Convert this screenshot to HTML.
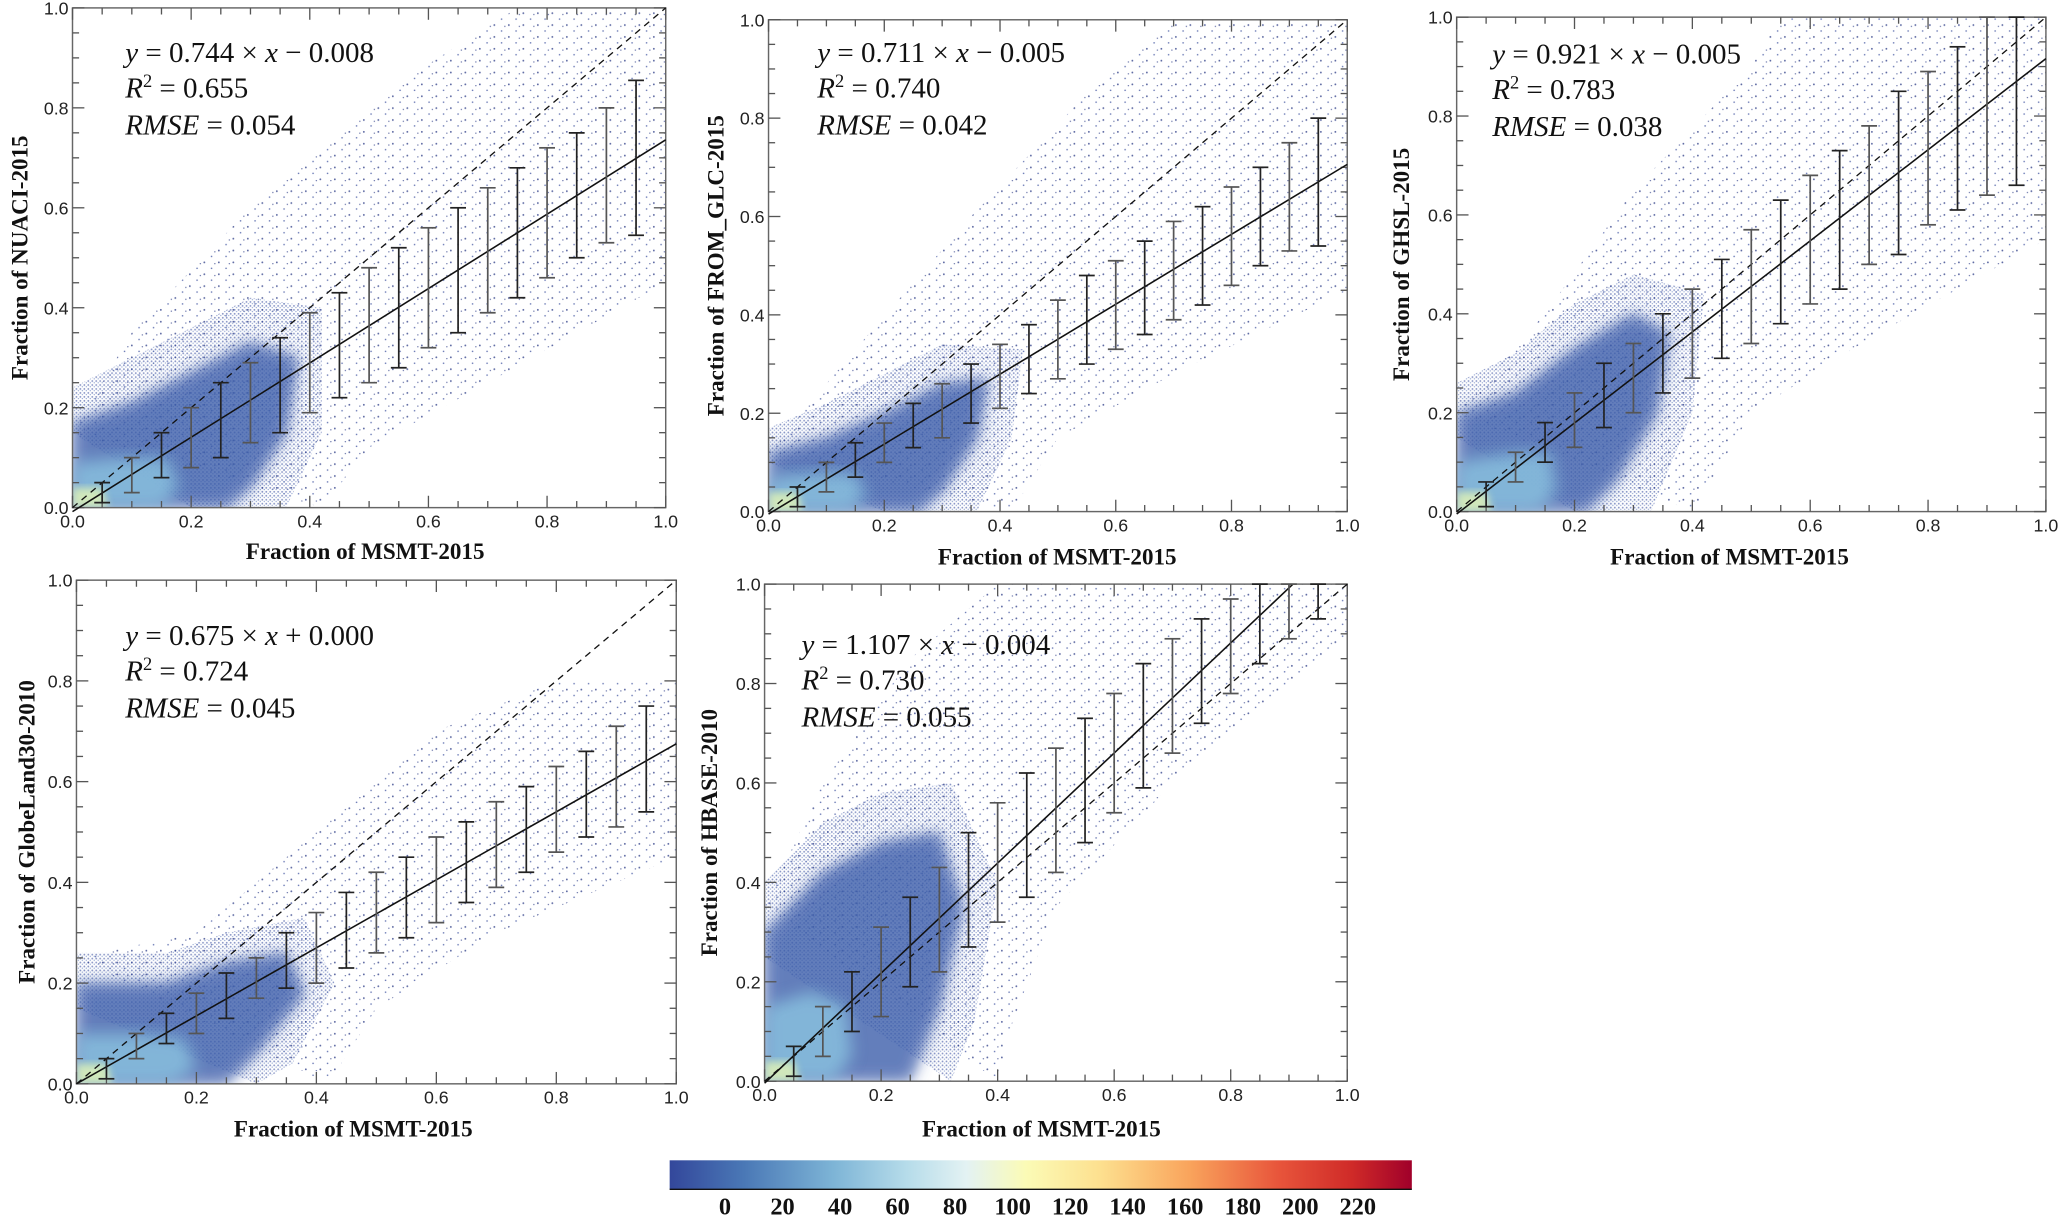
<!DOCTYPE html>
<html><head><meta charset="utf-8">
<style>
html,body{margin:0;padding:0;background:#fff;}
svg{display:block;}
.tick{font-family:"Liberation Sans",sans-serif;font-size:13.5px;fill:#222;}
.atitle{font-family:"Liberation Serif",serif;font-weight:bold;font-size:17.5px;fill:#111;}
.eq{font-family:"Liberation Serif",serif;font-size:22px;fill:#111;}
.cbl{font-family:"Liberation Serif",serif;font-weight:bold;font-size:18.5px;fill:#111;}
</style></head>
<body>
<svg id="fig" width="2067" height="1217" viewBox="0 0 1568 923" preserveAspectRatio="none" xmlns="http://www.w3.org/2000/svg">
<defs>
<filter id="blur6" x="-20%" y="-20%" width="140%" height="140%"><feGaussianBlur stdDeviation="6"/></filter>
<filter id="blur3" x="-20%" y="-20%" width="140%" height="140%"><feGaussianBlur stdDeviation="3"/></filter>
<pattern id="dots" width="11" height="9" patternUnits="userSpaceOnUse"><circle cx="1" cy="1" r="0.7" fill="#2a3a85"/><circle cx="6.5" cy="5.5" r="0.6" fill="#34499a"/><circle cx="9" cy="2" r="0.5" fill="#2a3a85"/></pattern>
<pattern id="dots2" width="3" height="3" patternUnits="userSpaceOnUse"><circle cx="1" cy="1" r="0.7" fill="#2d449a"/><circle cx="2.5" cy="2.3" r="0.5" fill="#4666b0"/></pattern>
<linearGradient id="cbgrad" x1="0" x2="1" y1="0" y2="0">
<stop offset="0" stop-color="#33479b"/><stop offset="0.1" stop-color="#4a78b6"/><stop offset="0.22" stop-color="#7db4d6"/><stop offset="0.32" stop-color="#b6dcea"/><stop offset="0.4" stop-color="#e3f2f3"/><stop offset="0.48" stop-color="#fbfbb6"/><stop offset="0.58" stop-color="#fde08f"/><stop offset="0.7" stop-color="#f9a45c"/><stop offset="0.82" stop-color="#e8553b"/><stop offset="0.92" stop-color="#cf2a28"/><stop offset="1" stop-color="#a0002a"/>
</linearGradient>
</defs>
</svg>
<script>
// ---- data ----
const binCenters = [0.05,0.10,0.15,0.20,0.25,0.30,0.35,0.40,0.45,0.50,0.55,0.60,0.65,0.70,0.75,0.80,0.85,0.90,0.95];
const p1Lo = [0.01,0.03,0.06,0.08,0.10,0.13,0.15,0.19,0.22,0.25,0.28,0.32,0.35,0.39,0.42,0.46,0.50,0.53,0.545];
const p1Hi = [0.05,0.10,0.15,0.20,0.25,0.29,0.34,0.39,0.43,0.48,0.52,0.56,0.60,0.64,0.68,0.72,0.75,0.80,0.855];
const p2Lo = [0.01,0.04,0.07,0.10,0.13,0.15,0.18,0.21,0.24,0.27,0.30,0.33,0.36,0.39,0.42,0.46,0.50,0.53,0.54];
const p2Hi = [0.05,0.10,0.14,0.18,0.22,0.26,0.30,0.34,0.38,0.43,0.48,0.51,0.55,0.59,0.62,0.66,0.70,0.75,0.80];
const p3Lo = [0.01,0.06,0.10,0.13,0.17,0.20,0.24,0.27,0.31,0.34,0.38,0.42,0.45,0.50,0.52,0.58,0.61,0.64,0.66];
const p3Hi = [0.06,0.12,0.18,0.24,0.30,0.34,0.40,0.45,0.51,0.57,0.63,0.68,0.73,0.78,0.85,0.89,0.94,1.00,1.00];
const p4Lo = [0.01,0.05,0.08,0.10,0.13,0.17,0.19,0.20,0.23,0.26,0.29,0.32,0.36,0.39,0.42,0.46,0.49,0.51,0.54];
const p4Hi = [0.05,0.10,0.14,0.18,0.22,0.25,0.30,0.34,0.38,0.42,0.45,0.49,0.52,0.56,0.59,0.63,0.66,0.71,0.75];
const p5Lo = [0.01,0.05,0.10,0.13,0.19,0.22,0.27,0.32,0.37,0.42,0.48,0.54,0.59,0.66,0.72,0.78,0.84,0.89,0.93];
const p5Hi = [0.07,0.15,0.22,0.31,0.37,0.43,0.50,0.56,0.62,0.67,0.73,0.78,0.84,0.89,0.93,0.97,1.00,1.00,1.00];
const slopes = [0.744,0.711,0.921,0.675,1.107];
const intercepts = [-0.008,-0.005,-0.005,0.000,-0.004];
const eqTexts = ["y = 0.744 × x − 0.008","y = 0.711 × x − 0.005","y = 0.921 × x − 0.005","y = 0.675 × x + 0.000","y = 1.107 × x − 0.004"];
const r2Texts = ["0.655","0.740","0.783","0.724","0.730"];
const rmseTexts = ["0.054","0.042","0.038","0.045","0.055"];
const yTitles = ["Fraction of NUACI-2015","Fraction of FROM_GLC-2015","Fraction of GHSL-2015","Fraction of GlobeLand30-2010","Fraction of HBASE-2010"];
const tickLabels = ["0.0","0.2","0.4","0.6","0.8","1.0"];
const cbLabels = ["0","20","40","60","80","100","120","140","160","180","200","220"];

const NS="http://www.w3.org/2000/svg";
const svg=document.getElementById('fig');
function mk(tag,attrs,parent){const e=document.createElementNS(NS,tag);for(const k in attrs)e.setAttribute(k,attrs[k]);(parent||svg).appendChild(e);return e;}

const panels=[
 {x0:55,x1:505,y0:385,y1:6,lo:p1Lo,hi:p1Hi,tx:15,eqx:95,eqy:40,xt:277,xty:418},
 {x0:583,x1:1022,y0:388,y1:15,lo:p2Lo,hi:p2Hi,tx:543,eqx:620,eqy:40,xt:802,xty:422},
 {x0:1105,x1:1552,y0:388,y1:13,lo:p3Lo,hi:p3Hi,tx:1063,eqx:1132,eqy:41,xt:1312,xty:422},
 {x0:58,x1:513,y0:822,y1:440,lo:p4Lo,hi:p4Hi,tx:20,eqx:95,eqy:482,xt:268,xty:856},
 {x0:580,x1:1022,y0:820,y1:443,lo:p5Lo,hi:p5Hi,tx:538,eqx:608,eqy:489,xt:790,xty:856}
];
const denseShapes=[
 [[0,0],[0,0.17],[0.1,0.21],[0.2,0.27],[0.3,0.33],[0.38,0.3],[0.36,0.15],[0.3,0.04],[0.26,0]],
 [[0,0],[0,0.12],[0.1,0.15],[0.2,0.2],[0.3,0.26],[0.38,0.27],[0.36,0.15],[0.3,0.04],[0.26,0]],
 [[0,0],[0,0.2],[0.1,0.24],[0.2,0.33],[0.3,0.4],[0.36,0.36],[0.34,0.2],[0.27,0.06],[0.22,0]],
 [[0,0],[0,0.2],[0.15,0.2],[0.25,0.24],[0.35,0.26],[0.38,0.18],[0.3,0.06],[0.25,0]],
 [[0,0],[0,0.3],[0.1,0.42],[0.2,0.48],[0.3,0.5],[0.34,0.35],[0.3,0.15],[0.25,0]]
];
const haloShapes=[
 [[0,0.15],[0,0.24],[0.1,0.3],[0.2,0.36],[0.3,0.42],[0.42,0.4],[0.42,0.15],[0.36,0.0],[0.2,0]],
 [[0,0.1],[0,0.17],[0.1,0.22],[0.2,0.28],[0.3,0.34],[0.44,0.33],[0.42,0.15],[0.36,0.0],[0.2,0]],
 [[0,0.15],[0,0.26],[0.1,0.32],[0.2,0.42],[0.3,0.48],[0.42,0.44],[0.4,0.2],[0.33,0.0],[0.2,0]],
 [[0,0.15],[0,0.26],[0.15,0.26],[0.25,0.3],[0.38,0.33],[0.43,0.2],[0.36,0.04],[0.3,0]],
 [[0,0.25],[0,0.4],[0.1,0.52],[0.2,0.58],[0.32,0.6],[0.4,0.4],[0.36,0.12],[0.32,0]]
];
const sparseShapes=[
 [[0,0.15],[0.1,0.35],[0.3,0.6],[0.55,0.85],[0.75,1],[1,1],[1,0.45],[0.7,0.25],[0.5,0.12],[0.42,0]],
 [[0,0.12],[0.15,0.33],[0.35,0.6],[0.55,0.85],[0.7,1],[1,1],[1,0.45],[0.7,0.28],[0.5,0.15],[0.42,0]],
 [[0,0.2],[0.15,0.4],[0.3,0.65],[0.5,0.9],[0.55,1],[1,1],[1,0.55],[0.7,0.35],[0.5,0.2],[0.4,0]],
 [[0,0.25],[0.2,0.3],[0.35,0.45],[0.6,0.7],[0.8,0.8],[1,0.8],[1,0.45],[0.7,0.3],[0.5,0.15],[0.42,0]],
 [[0,0.35],[0.1,0.6],[0.25,0.85],[0.4,1],[1,1],[1,0.9],[0.7,0.6],[0.5,0.35],[0.42,0.1],[0.4,0]]
];
const lightShapes=[
 [[0,0],[0,0.09],[0.08,0.1],[0.16,0.1],[0.18,0.04],[0.15,0]],
 [[0,0],[0,0.07],[0.08,0.08],[0.15,0.08],[0.17,0.03],[0.14,0]],
 [[0,0],[0,0.1],[0.1,0.12],[0.16,0.12],[0.17,0.04],[0.14,0]],
 [[0,0],[0,0.1],[0.1,0.1],[0.18,0.09],[0.2,0.03],[0.16,0]],
 [[0,0],[0,0.15],[0.08,0.18],[0.14,0.15],[0.15,0.05],[0.12,0]]
];

panels.forEach((p,i)=>{
  const sx=v=>p.x0+(p.x1-p.x0)*v;
  const sy=v=>p.y0-(p.y0-p.y1)*v;
  const g=mk('g',{});
  
  
  const cid='clip'+i;
  const cp=mk('clipPath',{id:cid},g);
  mk('rect',{x:p.x0,y:p.y1,width:p.x1-p.x0,height:p.y0-p.y1},cp);
  const dg=mk('g',{'clip-path':'url(#'+cid+')'},g);
  
  
  const pts=s=>s.map(q=>sx(q[0]).toFixed(1)+','+sy(q[1]).toFixed(1)).join(' ');
  mk('polygon',{points:pts(sparseShapes[i]),fill:'url(#dots)',opacity:0.75},dg);
  mk('polygon',{points:pts(haloShapes[i]),fill:'url(#dots2)',opacity:0.55},dg);
  mk('polygon',{points:pts(denseShapes[i]),fill:'url(#dots2)',opacity:0.8,filter:'url(#blur3)'},dg);
  mk('polygon',{points:pts(denseShapes[i]),fill:'#3d5fab',opacity:0.75,filter:'url(#blur6)'},dg);
  mk('polygon',{points:pts(lightShapes[i]),fill:'#86bcdc',opacity:0.9,filter:'url(#blur6)'},dg);
  mk('polygon',{points:pts([[0,0],[0,0.04],[0.05,0.04],[0.06,0]]),fill:'#d9eeb8',opacity:0.9,filter:'url(#blur3)'},dg);
  const fr=mk('rect',{x:p.x0,y:p.y1,width:p.x1-p.x0,height:p.y0-p.y1,fill:'none',stroke:'#666','stroke-width':1.1},g);
  
  
  for(let k=0;k<=20;k++){
    const v=k/20, major=(k%4===0), L=major?9:5;
    mk('line',{x1:sx(v),x2:sx(v),y1:p.y0,y2:p.y0-L,stroke:'#555','stroke-width':1},g);
    mk('line',{x1:sx(v),x2:sx(v),y1:p.y1,y2:p.y1+L,stroke:'#555','stroke-width':1},g);
    mk('line',{x1:p.x0,x2:p.x0+L,y1:sy(v),y2:sy(v),stroke:'#555','stroke-width':1},g);
    mk('line',{x1:p.x1,x2:p.x1-L,y1:sy(v),y2:sy(v),stroke:'#555','stroke-width':1},g);
  }
  tickLabels.forEach((t,k)=>{
    const v=k*0.2;
    const a=mk('text',{x:sx(v),y:p.y0+15,'text-anchor':'middle',class:'tick'},g);a.textContent=t;
    
    
    const b=mk('text',{x:p.x0-3,y:sy(v)+5,'text-anchor':'end',class:'tick'},g);b.textContent=t;
    
    
  });
  const d=mk('line',{x1:sx(0),y1:sy(0),x2:sx(1),y2:sy(1),stroke:'#111','stroke-width':1,'stroke-dasharray':'5,4'},g);
  
  
  const m=slopes[i], c=intercepts[i];
  let xe=1; if(m+c>1) xe=(1-c)/m;
  const f=mk('line',{x1:sx(0),y1:sy(c),x2:sx(xe),y2:sy(m*xe+c),stroke:'#111','stroke-width':1.2},g);
  
  
  binCenters.forEach((bx,k)=>{
    const eb=mk('g',{stroke:(k%2===0)?'#222':'#555','stroke-width':1.3},g);
    
    
    const X=sx(bx), yl=sy(p.lo[k]), yh=sy(p.hi[k]);
    mk('line',{x1:X,x2:X,y1:yl,y2:yh},eb);
    mk('line',{x1:X-6,x2:X+6,y1:yl,y2:yl},eb);
    mk('line',{x1:X-6,x2:X+6,y1:yh,y2:yh},eb);
  });
  const e1=mk('text',{x:p.eqx,y:p.eqy+7,class:'eq'},g);
  
  
  e1.innerHTML='<tspan font-style="italic">y</tspan> = '+eqTexts[i].slice(4).replace('x','<tspan font-style="italic">x</tspan>');
  const e2=mk('text',{x:p.eqx,y:p.eqy+34,class:'eq'},g);
  
  
  e2.innerHTML='<tspan font-style="italic">R</tspan><tspan dy="-8" font-size="14">2</tspan><tspan dy="8"> = '+r2Texts[i]+'</tspan>';
  const e3=mk('text',{x:p.eqx,y:p.eqy+62,class:'eq'},g);
  
  
  e3.innerHTML='<tspan font-style="italic">RMSE</tspan> = '+rmseTexts[i];
  const xt=mk('text',{x:p.xt,y:p.xty+6,'text-anchor':'middle',class:'atitle'},g);xt.textContent='Fraction of MSMT-2015';
  
  
  const yc=(p.y0+p.y1)/2;
  const yt=mk('text',{x:p.tx+6,y:yc,'text-anchor':'middle',class:'atitle',transform:'rotate(-90 '+(p.tx+6)+' '+yc+')'},g);yt.textContent=yTitles[i];
  
  
});

const cb=mk('g',{});


mk('rect',{x:508,y:880,width:563,height:22,fill:'url(#cbgrad)'},cb);
mk('line',{x1:508,x2:1071,y1:902,y2:902,stroke:'#111','stroke-width':1},cb);
const cbx=v=>550+v*(1030-550)/220;
cbLabels.forEach(t=>{
  const el=mk('text',{x:cbx(+t),y:921,'text-anchor':'middle',class:'cbl'},cb);el.textContent=t;
  
  
});
</script>
</body></html>
